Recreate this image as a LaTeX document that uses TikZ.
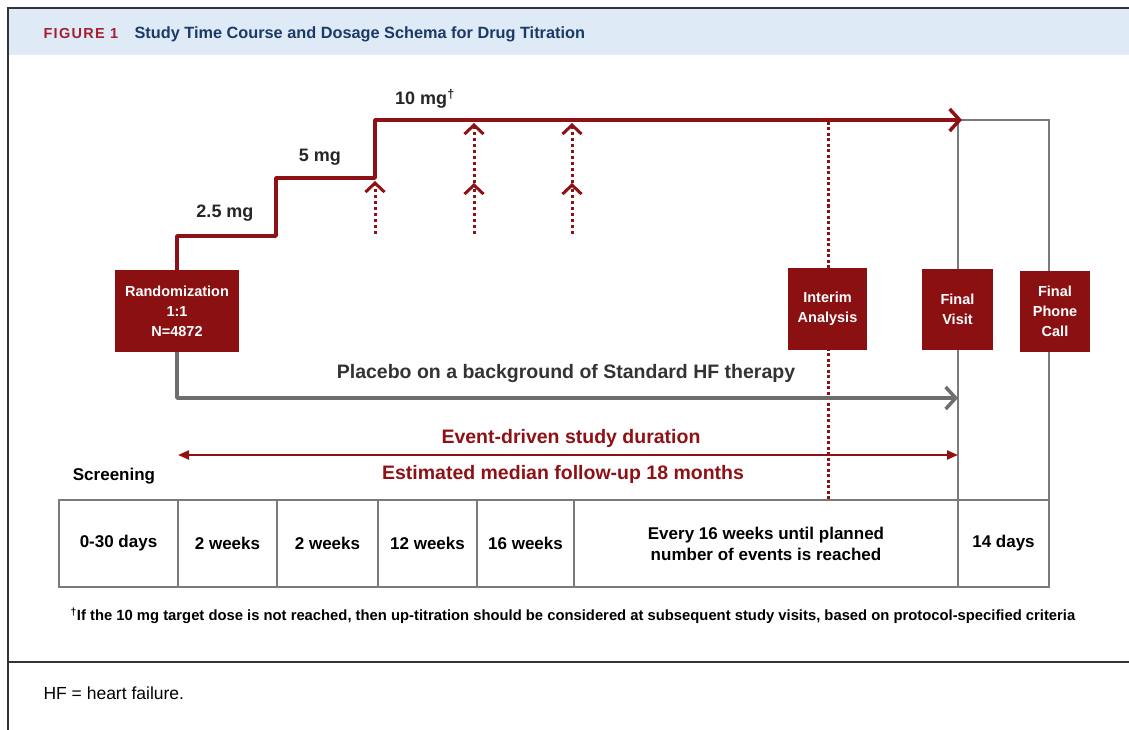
\documentclass[tikz,border=0pt]{standalone}
\usepackage{fontspec}
\setmainfont{Liberation Sans}
\usetikzlibrary{arrows.meta, positioning}

\definecolor{doseRed}{HTML}{8E1116}
\definecolor{boxRed}{HTML}{8B1012}
\definecolor{lineGray}{HTML}{6E6E6E}
\definecolor{tableGray}{HTML}{7A7A7A}
\definecolor{headBlue}{HTML}{DEEAF6}
\definecolor{figRed}{HTML}{A31F34}
\definecolor{titleBlue}{HTML}{1C3A66}
\definecolor{textGray}{HTML}{333333}

\tikzset{
  redbox/.style={fill=boxRed, text=white, font=\bfseries\fontsize{14.5}{20}\selectfont,
    align=center, inner sep=0pt},
  doselabel/.style={font=\bfseries\fontsize{18}{20}\selectfont, text=black!85},
  dosestep/.style={draw=doseRed, line width=3.5pt, line join=round,
    -{Straight Barb[length=10pt,width=22pt]}},
  placeboline/.style={draw=lineGray, line width=3.5pt, line join=round,
    -{Straight Barb[length=10pt,width=22pt]}},
  titrarrow/.style={draw=doseRed, line width=3pt, dash pattern=on 3pt off 3pt,
    -{Straight Barb[length=9pt,width=19pt,line width=3pt]}},
  interimline/.style={draw=doseRed, line width=3pt, dash pattern=on 3pt off 2.5pt},
  durarrow/.style={draw=doseRed, line width=2.2pt, {Triangle[length=11pt,width=9pt]}-{Triangle[length=11pt,width=9pt]}},
  cell/.style={draw=tableGray, line width=1.8pt, minimum height=87pt, inner sep=0pt,
    outer sep=0pt, font=\bfseries\fontsize{17}{21}\selectfont, align=center},
  outline/.style={draw=tableGray, line width=1.8pt},
}

\begin{document}
\begin{tikzpicture}[x=1pt, y=-1pt]
\useasboundingbox (0,0) rectangle (1129,730);

% frame and header
\fill[headBlue] (9,9) rectangle (1129,55);
\draw[line width=1.5pt, black!80] (8,730) -- (8,8) -- (1129,8);
\draw[line width=1.5pt, black!80] (8,662) -- (1129,662);
\node[anchor=base west, text=figRed, font=\bfseries\fontsize{14.5}{16}\selectfont\addfontfeatures{LetterSpace=9}]
  (fig) at (40,39) {FIGURE 1};
\node[anchor=base west, text=titleBlue, font=\bfseries\fontsize{16.3}{19}\selectfont]
  (title) at (131,39) {Study Time Course and Dosage Schema for Drug Titration};

% time table
\node[cell, minimum width=119pt] (c0) at (118.5,543.5) {0-30 days};
\node[cell, minimum width=99pt, right=0pt of c0] (c1) {2 weeks};
\node[cell, minimum width=101pt, right=0pt of c1] (c2) {2 weeks};
\node[cell, minimum width=99pt, right=0pt of c2] (c3) {12 weeks};
\node[cell, minimum width=97pt, right=0pt of c3] (c4) {16 weeks};
\node[cell, minimum width=384pt, right=0pt of c4] (c5) {Every 16 weeks until planned\\number of events is reached};
\node[cell, minimum width=91pt, right=0pt of c5] (c6) {14 days};

% follow-up frame
\coordinate (ftl) at (958,120);
\coordinate (ftr) at (1049,120);
\draw[outline] (c6.north west) -- (ftl) -- (ftr) -- (c6.north east);

% interim analysis
\coordinate (itop) at (828,122);
\draw[interimline] (itop) -- (itop |- c5.north);

% boxes
\node[redbox, minimum width=124pt, minimum height=82pt] (rand) at (177,311) {Randomization\\1:1\\N=4872};
\node[redbox, minimum width=79pt, minimum height=82pt] (interim) at (827.5,309) {Interim\\Analysis};
\node[redbox, minimum width=71pt, minimum height=81pt] (fvisit) at (957.5,309.5) {Final\\Visit};
\node[redbox, minimum width=70pt, minimum height=81pt] (fcall) at (1055,311.5) {Final\\Phone\\Call};

% dose steps
\coordinate (d1) at (276,236);
\coordinate (d2) at (375,178);
\coordinate (d3) at (962,120);
\draw[dosestep] (rand.north) |- (d1) |- (d2) |- (d3);
\node[doselabel] (dose1) at (225,213) {2.5 mg};
\node[doselabel] (dose2) at (320,157) {5 mg};
\node[doselabel] (dose3) at (425,99) {10 mg\textsuperscript{†}};

% up-titration arrows
\coordinate (u0) at (375,234);
\coordinate (u0t) at (375,181);
\draw[titrarrow] (u0) -- (u0t);
\foreach \x [count=\i] in {474,572} {
  \coordinate (ub\i) at (\x,234);
  \coordinate (um\i) at (\x,183);
  \coordinate (ut\i) at (\x,123);
  \draw[titrarrow] (ub\i) -- (um\i);
  \draw[titrarrow] (um\i) -- (ut\i);
}

% placebo
\coordinate (p1) at (958,398);
\draw[placeboline] (rand.south) |- (p1);
\node[font=\bfseries\fontsize{19.5}{22}\selectfont, text=textGray] (placebo) at (566,373)
  {Placebo on a background of Standard HF therapy};

% study duration
\coordinate (ev1) at (178,455);
\coordinate (ev2) at (958,455);
\draw[durarrow] (ev1) -- (ev2);
\node[font=\bfseries\fontsize{19.5}{22}\selectfont, text=doseRed] (evtxt) at (571,438) {Event-driven study duration};
\node[font=\bfseries\fontsize{19.5}{22}\selectfont, text=doseRed] (fuptxt) at (563,474) {Estimated median follow-up 18 months};
\node[font=\bfseries\fontsize{17}{20}\selectfont] (screen) at (114,476) {Screening};

% notes
\node[font=\bfseries\fontsize{14.8}{17}\selectfont] (note) at (573,616)
  {\textsuperscript{†}If the 10 mg target dose is not reached, then up-titration should be considered at subsequent study visits, based on protocol-specified criteria};
\node[anchor=base west, font=\fontsize{17.5}{20}\selectfont] (abbr) at (40,699) {HF = heart failure.};
\end{tikzpicture}
\end{document}
